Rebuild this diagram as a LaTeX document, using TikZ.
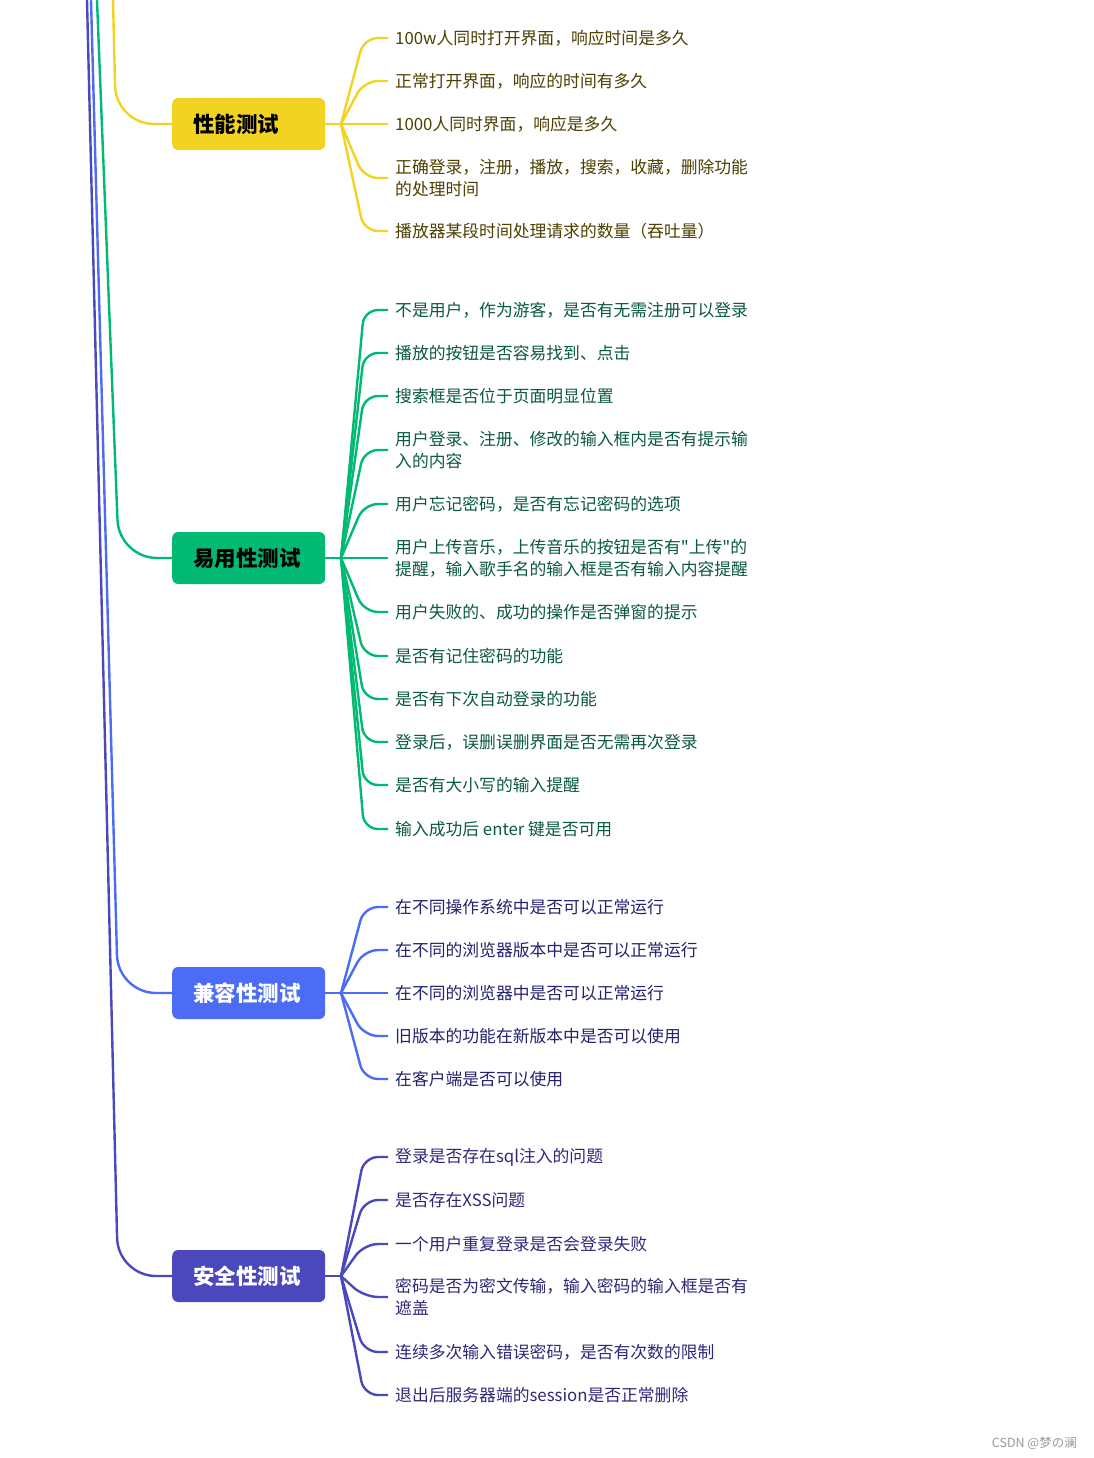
\documentclass[tikz,border=0pt]{standalone}
\usepackage{fontspec}
\setmainfont{Noto Sans CJK SC}
\newfontfamily\qfont{Noto Sans CJK SC}
\usetikzlibrary{calc}
\definecolor{cY}{HTML}{F2D322}
\definecolor{cG}{HTML}{00B973}
\definecolor{cB}{HTML}{4C6CF6}
\definecolor{cP}{HTML}{4B48BE}
\definecolor{tY}{HTML}{4D4000}
\definecolor{tG}{HTML}{0A5A3C}
\definecolor{tB}{HTML}{22226E}
\definecolor{tP}{HTML}{2D2878}
\newcommand{\sq}{{\qfont"}}
\begin{document}
\begin{tikzpicture}[x=1pt,y=-1pt,
  box/.style={rounded corners=6pt, minimum width=153pt, minimum height=52pt,
    text width=111pt, align=left, inner xsep=21pt, inner ysep=0pt, anchor=west,
    font=\fontsize{21.5}{26}\selectfont\bfseries},
  leaf/.style={anchor=west, inner xsep=7pt, inner ysep=0pt, align=left,
    font=\fontsize{16.8}{22}\selectfont},
  conn/.style={line width=2.4pt, rounded corners=14pt},
  trunk/.style={line width=2.4pt, rounded corners=38pt}]
\useasboundingbox (0,0) rectangle (1093,1458);
\fill[white] (0,0) rectangle (1093,1458);

% category nodes
\node[box, fill=cY, text=black] (p) at (172,124) {性能测试};
\node[box, fill=cG, text=black] (u) at (172,558) {易用性测试};
\node[box, fill=cB, text=white] (c) at (172,993) {兼容性测试};
\node[box, fill=cP, text=white] (s) at (172,1276) {安全性测试};

% trunk coordinates (root lies above the picture)
\coordinate (tp) at (113,0);
\coordinate (tu) at (97,0);
\coordinate (tc) at (91,0);
\coordinate (ts) at (87,0);
\draw[trunk, cP] (ts) -- (118,0 |- s.west) -- (s.west);
\draw[trunk, cB] (tc) -- (118,0 |- c.west) -- (c.west);
\draw[trunk, cG] (tu) -- (119,0 |- u.west) -- (u.west);
\draw[trunk, cY] (tp) -- (116,0 |- p.west) -- (p.west);

% branch points
\coordinate (pb) at (341,124);
\coordinate (ub) at (341,558);
\coordinate (cb) at (341,993);
\coordinate (sb) at (341,1276);

% performance leaves
\begin{scope}[every node/.append style={text=tY}]
\node[leaf] (p1) at (388,38) {100w人同时打开界面，响应时间是多久};
\node[leaf] (p2) at (388,81) {正常打开界面，响应的时间有多久};
\node[leaf] (p3) at (388,124) {1000人同时界面，响应是多久};
\node[leaf] (p4) at (388,178) {正确登录，注册，播放，搜索，收藏，删除功能\\的处理时间};
\node[leaf] (p5) at (388,231) {播放器某段时间处理请求的数量（吞吐量）};
\end{scope}
\draw[line width=2.4pt, cY] (p.east) -- (pb);
\foreach \i in {1,...,5}{\draw[conn, cY] (pb) -- (364,0 |- p\i.west) -- (p\i.west);}

% usability leaves
\begin{scope}[every node/.append style={text=tG}]
\node[leaf] (u1) at (388,310) {不是用户，作为游客，是否有无需注册可以登录};
\node[leaf] (u2) at (388,353) {播放的按钮是否容易找到、点击};
\node[leaf] (u3) at (388,396) {搜索框是否位于页面明显位置};
\node[leaf] (u4) at (388,450) {用户登录、注册、修改的输入框内是否有提示输\\入的内容};
\node[leaf] (u5) at (388,504) {用户忘记密码，是否有忘记密码的选项};
\node[leaf] (u6) at (388,558) {用户上传音乐，上传音乐的按钮是否有\sq 上传\sq 的\\提醒，输入歌手名的输入框是否有输入内容提醒};
\node[leaf] (u7) at (388,612) {用户失败的、成功的操作是否弹窗的提示};
\node[leaf] (u8) at (388,656) {是否有记住密码的功能};
\node[leaf] (u9) at (388,699) {是否有下次自动登录的功能};
\node[leaf] (u10) at (388,742) {登录后，误删误删界面是否无需再次登录};
\node[leaf] (u11) at (388,785) {是否有大小写的输入提醒};
\node[leaf] (u12) at (388,829) {输入成功后 enter 键是否可用};
\end{scope}
\draw[line width=2.4pt, cG] (u.east) -- (ub);
\foreach \i in {1,...,12}{\draw[conn, cG] (ub) -- (364,0 |- u\i.west) -- (u\i.west);}

% compatibility leaves
\begin{scope}[every node/.append style={text=tB}]
\node[leaf] (c1) at (388,907) {在不同操作系统中是否可以正常运行};
\node[leaf] (c2) at (388,950) {在不同的浏览器版本中是否可以正常运行};
\node[leaf] (c3) at (388,993) {在不同的浏览器中是否可以正常运行};
\node[leaf] (c4) at (388,1036) {旧版本的功能在新版本中是否可以使用};
\node[leaf] (c5) at (388,1079) {在客户端是否可以使用};
\end{scope}
\draw[line width=2.4pt, cB] (c.east) -- (cb);
\foreach \i in {1,...,5}{\draw[conn, cB] (cb) -- (364,0 |- c\i.west) -- (c\i.west);}

% security leaves
\begin{scope}[every node/.append style={text=tP}]
\node[leaf] (s1) at (388,1157) {登录是否存在sql注入的问题};
\node[leaf] (s2) at (388,1200) {是否存在XSS问题};
\node[leaf] (s3) at (388,1244) {一个用户重复登录是否会登录失败};
\node[leaf] (s4) at (388,1297) {密码是否为密文传输，输入密码的输入框是否有\\遮盖};
\node[leaf] (s5) at (388,1352) {连续多次输入错误密码，是否有次数的限制};
\node[leaf] (s6) at (388,1395) {退出后服务器端的session是否正常删除};
\end{scope}
\draw[line width=2.4pt, cP] (s.east) -- (sb);
\foreach \i in {1,...,6}{\draw[conn, cP] (sb) -- (364,0 |- s\i.west) -- (s\i.west);}

% watermark
\node[anchor=east, inner sep=0pt, text=gray!80, font=\fontsize{12.5}{14}\selectfont] (wm) at (1077,1443) {CSDN @梦の澜};
\end{tikzpicture}
\end{document}
